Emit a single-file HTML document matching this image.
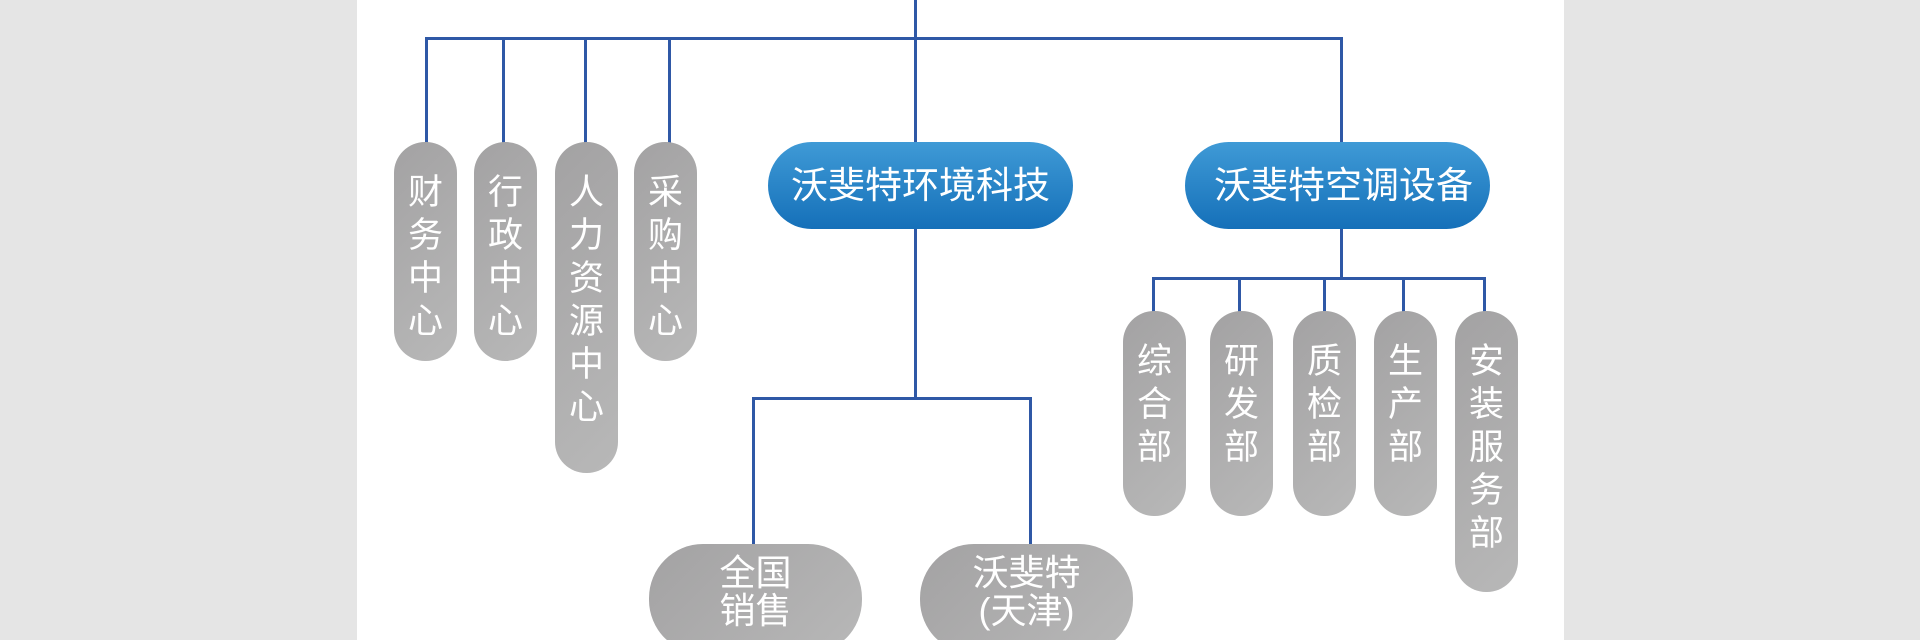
<!DOCTYPE html>
<html><head><meta charset="utf-8"><style>
html,body{margin:0;padding:0;width:1920px;height:640px;overflow:hidden}
body{background:#e5e5e5;position:relative;font-family:"Liberation Sans","Noto Sans CJK SC",sans-serif}
.page{position:absolute;left:357px;top:0;width:1207px;height:640px;background:#fff}
.l{position:absolute;background:#2f58a6}
.g{position:absolute;background:linear-gradient(135deg,#a3a2a3,#b8b8b8);color:#fff;text-align:center;font-size:35px;line-height:43px;box-sizing:border-box;padding-top:29px}
.v{border-radius:31px;width:63px}
.b{position:absolute;border-radius:44px;background:linear-gradient(#3f9ad6,#1570b9);color:#fff;font-size:37px;line-height:87px;text-align:center;width:305px;height:87px;top:142px}
.h{border-radius:54px;height:110px;top:544px;width:213px;line-height:38px;padding-top:10px;font-size:36px}
</style></head><body>
<div class="page"></div>
<div class="l" style="left:914px;top:0;width:3px;height:39px"></div>
<div class="l" style="left:425px;top:37px;width:918px;height:3px"></div>
<div class="l" style="left:425px;top:37px;width:3px;height:106px"></div>
<div class="l" style="left:502px;top:37px;width:3px;height:106px"></div>
<div class="l" style="left:584px;top:37px;width:3px;height:106px"></div>
<div class="l" style="left:668px;top:37px;width:3px;height:106px"></div>
<div class="l" style="left:914px;top:37px;width:3px;height:106px"></div>
<div class="l" style="left:1340px;top:37px;width:3px;height:106px"></div>
<div class="l" style="left:914px;top:228px;width:3px;height:171px"></div>
<div class="l" style="left:752px;top:397px;width:280px;height:3px"></div>
<div class="l" style="left:752px;top:397px;width:3px;height:148px"></div>
<div class="l" style="left:1029px;top:397px;width:3px;height:148px"></div>
<div class="l" style="left:1340px;top:228px;width:3px;height:52px"></div>
<div class="l" style="left:1152px;top:277px;width:334px;height:3px"></div>
<div class="l" style="left:1152px;top:277px;width:3px;height:35px"></div>
<div class="l" style="left:1238px;top:277px;width:3px;height:35px"></div>
<div class="l" style="left:1323px;top:277px;width:3px;height:35px"></div>
<div class="l" style="left:1402px;top:277px;width:3px;height:35px"></div>
<div class="l" style="left:1483px;top:277px;width:3px;height:35px"></div>

<div class="g v" style="left:394px;top:142px;height:219px">财<br>务<br>中<br>心</div>
<div class="g v" style="left:474px;top:142px;height:219px">行<br>政<br>中<br>心</div>
<div class="g v" style="left:555px;top:142px;height:331px">人<br>力<br>资<br>源<br>中<br>心</div>
<div class="g v" style="left:634px;top:142px;height:219px">采<br>购<br>中<br>心</div>

<div class="b" style="left:768px">沃斐特环境科技</div>
<div class="b" style="left:1185px;text-indent:12px">沃斐特空调设备</div>

<div class="g h" style="left:649px">全国<br>销售</div>
<div class="g h" style="left:920px">沃斐特<br>(天津)</div>

<div class="g v" style="left:1123px;top:311px;height:205px">综<br>合<br>部</div>
<div class="g v" style="left:1210px;top:311px;height:205px">研<br>发<br>部</div>
<div class="g v" style="left:1293px;top:311px;height:205px">质<br>检<br>部</div>
<div class="g v" style="left:1374px;top:311px;height:205px">生<br>产<br>部</div>
<div class="g v" style="left:1455px;top:311px;height:281px">安<br>装<br>服<br>务<br>部</div>
</body></html>
